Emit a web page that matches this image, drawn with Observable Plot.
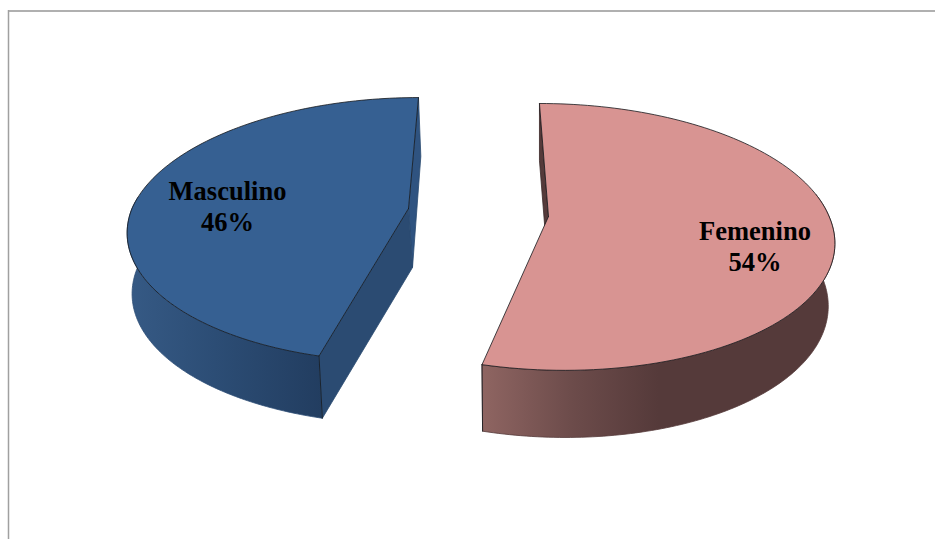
<!DOCTYPE html>
<html>
<head>
<meta charset="utf-8">
<script src="https://cdn.jsdelivr.net/npm/d3@7"></script>
<script src="https://cdn.jsdelivr.net/npm/@observablehq/plot@0.6"></script>
<style>html,body{margin:0;padding:0;background:#fff;overflow:hidden}svg{display:block}</style>
</head>
<body>
<div id="chart"></div>
<script>
const categories = ["Masculino", "Femenino"];
const values = [46, 54];
const labels = ["46%", "54%"];

const total = d3.sum(values);
const sweepF = values[1] / total * 360;
const sweepM = values[0] / total * 360;

// Projection of each exploded 3D slice: top and bottom plane of the cylinder
const views = {
  Femenino: {
    top:    {cx: 548, cy: 216, R: 280.6, S: 130.3, k: 0.153, s: 0.08, sf: 0.104},
    bottom: {cx: 548, cy: 273, R: 272,   S: 133.8, k: 0.184, s: 0.08, sf: 0.104}
  },
  Masculino: {
    top:    {cx: 408, cy: 208, R: 276.5, S: 128.7, k: 0.16, s: -0.09, sf: -0.055},
    bottom: {cx: 412, cy: 267, R: 275,   S: 130,   k: 0.17, s: -0.075, sf: -0.055}
  }
};
function project(p, deg) {
  const t = deg * Math.PI / 180, u = Math.sin(t), v = -Math.cos(t), w = 1 - p.k * v;
  const Y = p.S * v / w;
  return {x: p.cx + p.R * u / w + (Y < 0 ? p.s : p.sf) * Y, y: p.cy + Y};
}
const arc = (p, a, b, n = 120) => d3.range(n + 1).map(i => project(p, a + (b - a) * i / n));
const apex = p => ({x: p.cx, y: p.cy});
const close = pts => [...pts, pts[0]];

const F = views.Femenino, M = views.Masculino;
const edge = "#15181c";
const faces = [
  // Femenino: hidden cut sliver, outer wall, top
  {fill: "#553a3a", stroke: "#3a2828", pts: [project(F.top, 0), project(F.bottom, 0), apex(F.bottom), apex(F.top)]},
  {fill: "url(#wallF)", stroke: "#553a3a", pts: [...arc(F.top, sweepF, 80), ...arc(F.bottom, 80, sweepF)]},
  {fill: "#d89492", stroke: edge, pts: [apex(F.top), ...arc(F.top, 0, sweepF)]},
  // Masculino: back cut sliver, outer wall, front cut, top
  {fill: "#2f5380", stroke: "#2a4a70", pts: [project(M.top, 0), project(M.bottom, 0), apex(M.bottom), apex(M.top)]},
  {fill: "url(#wallM)", stroke: "#2c4d75", pts: [...arc(M.top, -sweepM, -85), ...arc(M.bottom, -85, -sweepM)]},
  {fill: "#2b4b72", stroke: "#2a4a70", pts: [apex(M.top), project(M.top, -sweepM), project(M.bottom, -sweepM), apex(M.bottom)]},
  {fill: "#366092", stroke: edge, pts: [apex(M.top), ...arc(M.top, 0, -sweepM)]}
];
const edges = [
  [project(F.top, sweepF), project(F.bottom, sweepF)],
  [project(M.top, -sweepM), project(M.bottom, -sweepM)]
];

const textRows = [
  {x: 227, y: 205, label: `${categories[0]}\n${labels[0]}`},
  {x: 754.5, y: 245, label: `${categories[1]}\n${labels[1]}`}
];

const plot = Plot.plot({
  width: 935, height: 539,
  margin: 0,
  x: {domain: [0, 935], range: [0, 935], axis: null},
  y: {domain: [0, 539], range: [0, 539], axis: null},
  style: {background: "#fff"},
  marks: [
    Plot.ruleY([10.5], {x1: 8, x2: 935, stroke: "#969696", strokeWidth: 1.3}),
    Plot.ruleX([8], {y1: 10, y2: 539, stroke: "#a0a0a0", strokeWidth: 1.5}),
    ...faces.map(f => Plot.line(close(f.pts), {
      x: "x", y: "y", fill: f.fill, stroke: f.stroke, strokeWidth: 0.8, strokeLinejoin: "round"
    })),
    ...edges.map(e => Plot.line(e, {x: "x", y: "y", stroke: edge, strokeWidth: 0.8})),
    Plot.text(textRows, {
      x: "x", y: "y", text: "label", fill: "#000", fontSize: 26.5, fontWeight: "bold",
      fontFamily: "Liberation Serif", lineHeight: 1.17, textAnchor: "middle", lineAnchor: "middle"
    })
  ]
});
plot.insertAdjacentHTML("afterbegin", `<defs>
<linearGradient id="wallF" x1="0" x2="1" y1="0" y2="0">
<stop offset="0" stop-color="#8f6562"/><stop offset="0.25" stop-color="#6d4c4b"/><stop offset="0.5" stop-color="#553a3a"/><stop offset="1" stop-color="#553a3a"/>
</linearGradient>
<linearGradient id="wallM" x1="0" x2="1" y1="0" y2="0">
<stop offset="0" stop-color="#365a85"/><stop offset="0.45" stop-color="#2c4d75"/><stop offset="1" stop-color="#223d60"/>
</linearGradient>
</defs>`);
document.getElementById("chart").appendChild(plot);
</script>
</body>
</html>
